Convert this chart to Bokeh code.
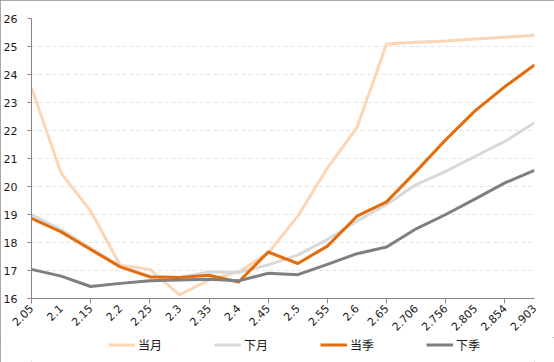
import math
from bokeh.plotting import figure
from bokeh.layouts import column
from bokeh.models import Range1d, FixedTicker, Legend, LegendItem
from bokeh.embed import file_html
from bokeh.resources import INLINE

categories = ["2.05", "2.1", "2.15", "2.2", "2.25", "2.3", "2.35", "2.4", "2.45",
              "2.5", "2.55", "2.6", "2.65", "2.706", "2.756", "2.805", "2.854", "2.903"]
dangyue = [23.53, 20.48, 19.12, 17.19, 17.04, 16.13, 16.66, 16.95, 17.62,
           18.94, 20.66, 22.11, 25.09, 25.15, 25.20, 25.27, 25.33, 25.40]
xiayue = [19.00, 18.45, 17.80, 17.15, 16.80, 16.75, 16.95, 16.93, 17.20,
          17.55, 18.11, 18.76, 19.36, 20.07, 20.54, 21.08, 21.61, 22.28]
dangji = [18.86, 18.38, 17.75, 17.13, 16.77, 16.75, 16.83, 16.59, 17.66,
          17.25, 17.87, 18.94, 19.45, 20.54, 21.67, 22.71, 23.57, 24.34]
xiaji = [17.04, 16.80, 16.43, 16.54, 16.63, 16.66, 16.69, 16.63, 16.90,
         16.85, 17.22, 17.60, 17.84, 18.49, 19.00, 19.56, 20.13, 20.58]
series_names = ["当月", "下月", "当季", "下季"]
y_ticks = list(range(16, 27))

x = list(range(len(categories)))
series = [dangyue, xiayue, dangji, xiaji]
colors = ["#FCD5B5", "#D9D9D9", "#E46C0A", "#7F7F7F"]
axis_color = "#868686"
font = "DejaVu Sans"

p = figure(width=554, height=337, output_backend="svg", toolbar_location=None,
           x_range=Range1d(0, len(categories) - 1), y_range=Range1d(16, 26),
           min_border_left=30, min_border_right=20, min_border_top=18, min_border_bottom=38)
p.background_fill_color = "white"
p.border_fill_color = "white"
p.outline_line_color = None

for ys, c in zip(series, colors):
    p.line(x, ys, line_color=c, line_width=3, line_join="round")

# x axis
p.xaxis.ticker = FixedTicker(ticks=x, minor_ticks=list(range(0, len(categories) - 1, 2)))
p.xaxis.major_label_overrides = {i: c for i, c in enumerate(categories)}
p.xaxis.major_tick_out = 0
p.xaxis.major_tick_in = 0
p.xaxis.minor_tick_out = 5
p.xaxis.minor_tick_in = 0
p.xaxis.minor_tick_line_color = axis_color
p.xaxis.axis_line_color = axis_color
p.xaxis.major_label_orientation = math.pi / 4
p.xaxis.major_label_standoff = 3
p.xaxis.major_label_text_font = font
p.xaxis.major_label_text_font_size = "11px"
p.xaxis.major_label_text_color = "#1a1a1a"

# y axis
p.yaxis.ticker = FixedTicker(ticks=y_ticks)
p.yaxis.major_tick_out = 4
p.yaxis.major_tick_in = 0
p.yaxis.minor_tick_out = 0
p.yaxis.minor_tick_in = 0
p.yaxis.major_tick_line_color = axis_color
p.yaxis.axis_line_color = axis_color
p.yaxis.major_label_standoff = 10
p.yaxis.major_label_text_font = font
p.yaxis.major_label_text_font_size = "11px"
p.yaxis.major_label_text_color = "#1a1a1a"

p.xgrid.visible = False
p.ygrid.ticker = FixedTicker(ticks=y_ticks)
p.ygrid.grid_line_color = "#E3E3E3"
p.ygrid.grid_line_dash = "4 3"

# legend strip below the chart (its frame is aligned with the chart's frame)
q = figure(width=554, height=25, output_backend="svg", toolbar_location=None,
           x_range=Range1d(0, 1), y_range=Range1d(0, 1),
           x_axis_location=None, y_axis_location=None,
           min_border_left=30, min_border_right=20, min_border_top=0, min_border_bottom=0)
q.xgrid.visible = False
q.ygrid.visible = False
q.outline_line_color = None
q.background_fill_color = "white"
q.border_fill_color = "white"
# same series drawn out of this strip's view; only their legend glyphs show
legend_renderers = [q.line(x, ys, line_color=c, line_width=3) for ys, c in zip(series, colors)]

legend = Legend(items=[LegendItem(label=n, renderers=[r]) for n, r in zip(series_names, legend_renderers)],
                orientation="horizontal", location=(77, 9))
legend.border_line_color = None
legend.background_fill_alpha = 0
legend.padding = 0
legend.margin = 0
legend.spacing = 52
legend.glyph_width = 27
legend.glyph_height = 15
legend.label_standoff = 3
legend.label_height = 15
legend.label_width = 24
legend.label_text_font = "Noto Sans CJK SC"
legend.label_text_font_size = "12px"
legend.label_text_color = "#1a1a1a"
q.add_layout(legend, "center")

layout = column(p, q, spacing=0)
layout.styles = {"outline": "1px solid #8C8C8C", "outline-offset": "-1px"}
open("out.html", "w").write(file_html(layout, INLINE))
